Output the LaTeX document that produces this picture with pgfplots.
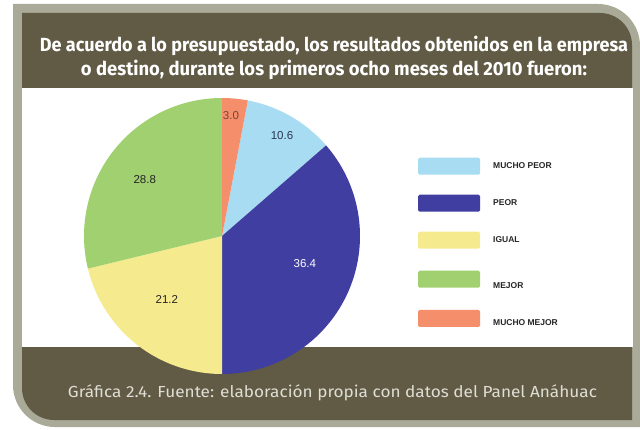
\documentclass[border=0pt]{standalone}
\usepackage{pgfplots}
\pgfplotsset{compat=1.18}
\usepackage{fontspec}
\setmainfont{Liberation Sans}
\newfontfamily\titlefont{Fira Sans}
\usepackage{graphicx}

\definecolor{frameL}{RGB}{170,170,152}
\definecolor{frameD}{RGB}{97,90,69}
\definecolor{capgray}{RGB}{222,222,212}
\definecolor{cMP}{RGB}{168,220,242}
\definecolor{cP}{RGB}{64,62,160}
\definecolor{cI}{RGB}{246,234,142}
\definecolor{cM}{RGB}{160,208,112}
\definecolor{cMM}{RGB}{245,142,106}

% colour, cumulative share before the slice, share, legend text
\newcommand{\pieslice}[4]{%
  \pgfmathsetmacro{\sa}{90-3.6*(#2+#3)}%
  \pgfmathsetmacro{\sb}{90-3.6*(#2)}%
  \addplot[fill=#1, draw=none, domain=\sa:\sb, samples=90, variable=\t]
    ({cos(t)}, {sin(t)}) -- (axis cs:0,0) -- cycle;
  \addlegendentry{#4}
}

\begin{document}
\begin{tikzpicture}[x=1pt,y=1pt]
\path[use as bounding box] (0,0) rectangle (640,429);
\fill[white] (0,0) rectangle (640,429);
% frame
\fill[frameL] (13,425) -- (598,425) arc[start angle=90, end angle=0, radius=42] -- (640,2) -- (55,2) arc[start angle=270, end angle=180, radius=42] -- cycle;
\fill[frameD] (22,416) -- (600,416) arc[start angle=90, end angle=0, radius=32] -- (632,9) -- (54,9) arc[start angle=270, end angle=180, radius=32] -- cycle;
\fill[white] (22,82) rectangle (633,341);
% title
\node[text=white, font=\titlefont\bfseries\fontsize{19}{22}\selectfont] at (334,383)
  {\resizebox{588pt}{\height}{De acuerdo a lo presupuestado, los resultados obtenidos en la empresa}};
\node[text=white, font=\titlefont\bfseries\fontsize{19}{22}\selectfont] at (334,359)
  {\resizebox{506pt}{\height}{o destino, durante los primeros ocho meses del 2010 fueron:}};

\coordinate (pc) at (222,193);
\begin{axis}[
  at={(pc)}, anchor=center,
  scale only axis, width=276pt, height=276pt,
  xmin=-1, xmax=1, ymin=-1, ymax=1,
  hide axis, clip=false,
  legend style={at={(1.2101,0.7844)}, anchor=north west, draw=none, fill=none,
    inner sep=0pt, row sep=20pt, column sep=13pt,
    font=\bfseries\fontsize{8.5}{10}\selectfont, text=black!85,
    nodes={inner sep=0pt}},
  legend cell align=left,
  legend image code/.code={\fill[#1, rounded corners=1.5pt] (0pt,-8.5pt) rectangle (62pt,8.5pt);},
]
\pieslice{cMP}{3.0}{10.6}{MUCHO PEOR}
\pieslice{cP}{13.6}{36.4}{PEOR}
\pieslice{cI}{50.0}{21.2}{IGUAL}
\pieslice{cM}{71.2}{28.8}{\rule{0pt}{19.5pt}MEJOR}
\pieslice{cMM}{100.0}{3.0}{\rule{0pt}{16pt}MUCHO MEJOR}

\node[font=\fontsize{11.5}{13}\selectfont, text={rgb,255:red,120;green,70;blue,55}] at (axis cs:0.065,0.87) {3.0};
\node[font=\fontsize{11.5}{13}\selectfont, text={rgb,255:red,40;green,55;blue,80}] at (axis cs:0.435,0.73) {10.6};
\node[font=\fontsize{11.5}{13}\selectfont, text=white] at (axis cs:0.60,-0.196) {36.4};
\node[font=\fontsize{11.5}{13}\selectfont, text=black!85] at (axis cs:-0.40,-0.46) {21.2};
\node[font=\fontsize{11.5}{13}\selectfont, text=black!85] at (axis cs:-0.56,0.41) {28.8};
\end{axis}

\node[text=capgray, font=\titlefont\fontsize{16}{19}\selectfont] at (332.5,36)
  {\resizebox{529pt}{\height}{Gráfica 2.4. Fuente: elaboración propia con datos del Panel Anáhuac}};
\end{tikzpicture}
\end{document}
